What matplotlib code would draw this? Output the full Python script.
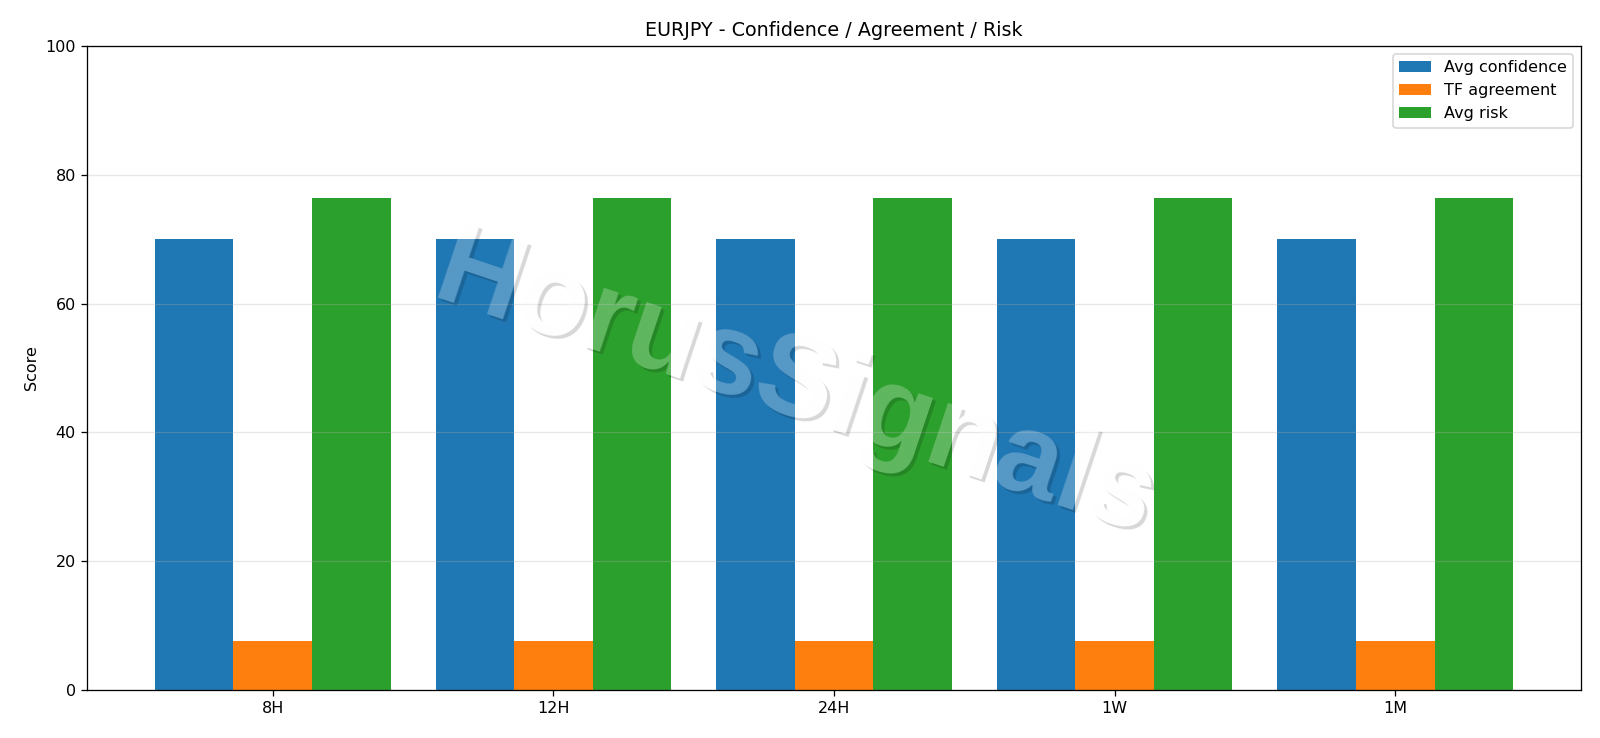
import matplotlib
matplotlib.use("Agg")
import matplotlib.pyplot as plt
import numpy as np

timeframes = ["8H", "12H", "24H", "1W", "1M"]
avg_confidence = [70.0, 70.0, 70.0, 70.0, 70.0]
tf_agreement = [7.6, 7.6, 7.6, 7.6, 7.6]
avg_risk = [76.4, 76.4, 76.4, 76.4, 76.4]

DPI = 115
W, H = 1600, 738

fig = plt.figure(figsize=(W / DPI, H / DPI), dpi=DPI)
ax = fig.add_axes([87 / W, 1 - 690 / H, (1581 - 87) / W, (690 - 46) / H])

x = np.arange(len(timeframes))
w = 0.28
ax.bar(x - w, avg_confidence, width=w, label="Avg confidence", color="#1f77b4")
ax.bar(x, tf_agreement, width=w, label="TF agreement", color="#ff7f0e")
ax.bar(x + w, avg_risk, width=w, label="Avg risk", color="#2ca02c")
ax.set_xticks(x)
ax.set_xticklabels(timeframes)
ax.set_ylim(0, 100)
ax.set_ylabel("Score")
ax.set_title("EURJPY - Confidence / Agreement / Risk")
ax.grid(axis="y", alpha=0.3)
ax.legend(loc="upper right")


# watermark: white text over a soft drop shadow (shadow knocked out under the letters)
def text_mask(dx, dy):
    f = plt.figure(figsize=(W / DPI, H / DPI), dpi=DPI)
    f.patch.set_alpha(0)
    f.text(0.497 + dx / W, 0.474 + dy / H, "HorusSignals", fontsize=73,
           family="Liberation Sans", weight="bold", color="black",
           rotation=-18.5, ha="center", va="center")
    f.canvas.draw()
    a = np.asarray(f.canvas.buffer_rgba())[..., 3] / 255.0
    plt.close(f)
    return a


t = text_mask(0, 0)
s = text_mask(3, -3)
alpha = 0.25 * t + (1 - t) * 0.16 * s
rgb = np.where(alpha > 0, (0.25 * t) / np.maximum(alpha, 1e-6), 0)
img = np.dstack([rgb, rgb, rgb, alpha])
fig.figimage(img, 0, 0, origin="upper", zorder=10)

plt.savefig("out.png", dpi=DPI)
plt.close()
